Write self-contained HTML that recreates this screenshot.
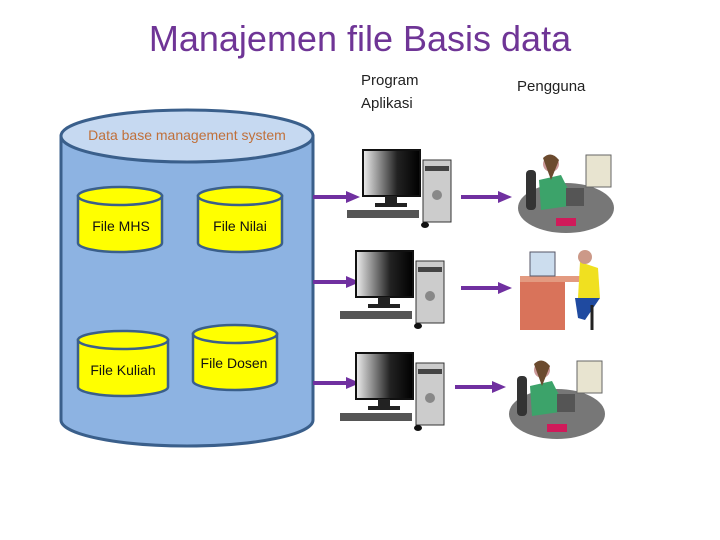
<!DOCTYPE html>
<html><head><meta charset="utf-8"><style>
html,body{margin:0;padding:0;background:#fff;}
svg{display:block;font-family:"Liberation Sans",sans-serif;}
</style></head><body>
<svg width="720" height="540" viewBox="0 0 720 540">
<text x="360" y="51" text-anchor="middle" font-size="36" fill="#6f3596">Manajemen file Basis data</text>
<text x="361" y="85" font-size="15" fill="#222">Program</text>
<text x="361" y="108" font-size="15" fill="#222">Aplikasi</text>
<text x="517" y="91" font-size="15" fill="#222">Pengguna</text>
<!-- big cylinder -->
<path d="M61,136 L61,420 A126,26 0 0 0 313,420 L313,136 Z" fill="#8db3e2" stroke="#3a5f8b" stroke-width="3"/>
<ellipse cx="187" cy="136" rx="126" ry="26" fill="#c6d9f1" stroke="#3a5f8b" stroke-width="3"/>
<text x="187" y="140" text-anchor="middle" font-size="14" fill="#c0703a">Data base management system</text>
<!-- small cylinders -->
<g stroke="#3a5f8b" stroke-width="2.5" fill="#ffff00">
<path d="M78,196 L78,243 A42,9 0 0 0 162,243 L162,196 Z"/><ellipse cx="120" cy="196" rx="42" ry="9"/>
<path d="M198,196 L198,243 A42,9 0 0 0 282,243 L282,196 Z"/><ellipse cx="240" cy="196" rx="42" ry="9"/>
<path d="M78,340 L78,387 A45,9 0 0 0 168,387 L168,340 Z"/><ellipse cx="123" cy="340" rx="45" ry="9"/>
<path d="M193,334 L193,381 A42,9 0 0 0 277,381 L277,334 Z"/><ellipse cx="235" cy="334" rx="42" ry="9"/>
</g>
<g font-size="14" fill="#111" text-anchor="middle">
<text x="121" y="231">File MHS</text>
<text x="240" y="231">File Nilai</text>
<text x="123" y="375">File Kuliah</text>
<text x="234" y="368">File Dosen</text>
</g>
<!-- arrows -->
<g stroke="#7030a0" stroke-width="4" fill="#7030a0">
<line x1="313" y1="197" x2="348" y2="197"/><path d="M346,191 L360,197 L346,203Z" stroke="none"/>
<line x1="313" y1="282" x2="348" y2="282"/><path d="M346,276 L360,282 L346,288Z" stroke="none"/>
<line x1="313" y1="383" x2="348" y2="383"/><path d="M346,377 L360,383 L346,389Z" stroke="none"/>
<line x1="461" y1="197" x2="500" y2="197"/><path d="M498,191 L512,197 L498,203Z" stroke="none"/>
<line x1="461" y1="288" x2="500" y2="288"/><path d="M498,282 L512,288 L498,294Z" stroke="none"/>
<line x1="455" y1="387" x2="494" y2="387"/><path d="M492,381 L506,387 L492,393Z" stroke="none"/>
</g>
<defs>
<linearGradient id="scr" x1="0" x2="1"><stop offset="0" stop-color="#eee"/><stop offset="0.6" stop-color="#222"/><stop offset="1" stop-color="#000"/></linearGradient>
<g id="pc">
<rect x="0" y="0" width="57" height="46" fill="url(#scr)" stroke="#111" stroke-width="2"/>
<rect x="22" y="46" width="12" height="8" fill="#222"/><rect x="12" y="53" width="32" height="4" fill="#222"/>
<rect x="-16" y="60" width="72" height="8" fill="#555"/>
<rect x="60" y="10" width="28" height="62" fill="#ccc" stroke="#333"/>
<rect x="62" y="16" width="24" height="5" fill="#444"/>
<circle cx="74" cy="45" r="5" fill="#888"/>
<ellipse cx="62" cy="75" rx="4" ry="3" fill="#111"/>
</g>
<g id="woman">
<ellipse cx="45" cy="58" rx="48" ry="25" fill="#777"/>
<rect x="5" y="20" width="10" height="40" rx="4" fill="#333"/>
<path d="M18,30 L40,25 L55,55 L20,60 Z" fill="#3ca36a"/>
<circle cx="30" cy="14" r="8" fill="#c99"/><path d="M22,8 Q30,0 38,10 L30,30 Z" fill="#6b4a2e"/>
<rect x="65" y="5" width="25" height="32" fill="#e8e4d0" stroke="#666"/>
<rect x="45" y="38" width="18" height="18" fill="#555"/>
<rect x="35" y="68" width="20" height="8" fill="#d01a5a"/>
</g>
</defs>
<use href="#pc" x="363" y="150"/>
<use href="#pc" x="356" y="251"/>
<use href="#pc" x="356" y="353"/>
<use href="#woman" x="521" y="150"/>
<use href="#woman" x="512" y="356"/>
<!-- man -->
<g>
<rect x="520" y="280" width="45" height="50" fill="#d9735a"/>
<rect x="520" y="276" width="70" height="6" fill="#e39a80"/>
<rect x="530" y="252" width="25" height="24" fill="#cde" stroke="#556"/>
<path d="M580,262 L598,268 L600,298 L578,298 Z" fill="#f0e020"/>
<circle cx="585" cy="257" r="7" fill="#c98"/>
<path d="M575,298 L600,298 L585,320 L578,318 Z" fill="#1f4aa0"/>
<line x1="592" y1="305" x2="592" y2="330" stroke="#222" stroke-width="3"/>
</g>
</svg>
</body></html>
